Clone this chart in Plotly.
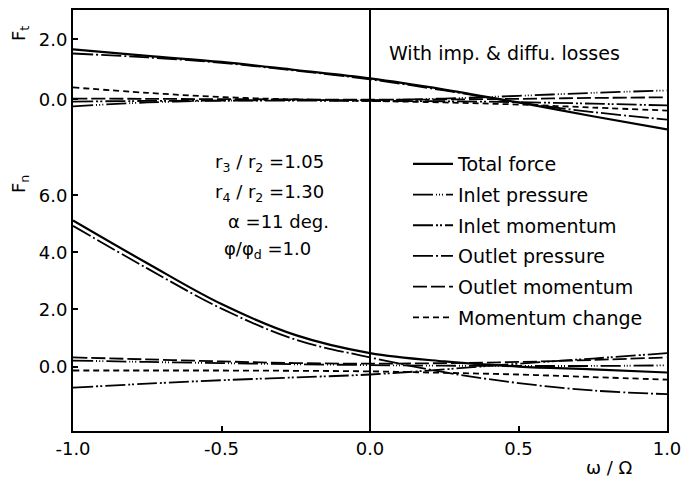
import plotly.graph_objects as go

# ---------------- data ----------------
omega = [-1.0, -0.75, -0.5, -0.25, 0.0, 0.25, 0.5, 0.75, 1.0]

series_names = ["Total force", "Inlet pressure", "Inlet momentum",
                "Outlet pressure", "Outlet momentum", "Momentum change"]

# Tangential force Ft
ft_total = [1.67, 1.45, 1.25, 0.98, 0.70, 0.33, -0.10, -0.56, -1.00]
ft_inlet_p = [-0.23, -0.10, -0.04, -0.02, -0.02, 0.03, 0.12, 0.22, 0.30]
ft_inlet_m = [-0.07, -0.05, -0.04, -0.04, -0.05, -0.06, -0.09, -0.14, -0.20]
ft_outlet_p = [1.53, 1.40, 1.22, 0.96, 0.67, 0.30, -0.10, -0.42, -0.67]
ft_outlet_m = [0.03, 0.02, 0.01, 0.00, -0.01, 0.00, 0.02, 0.05, 0.07]
ft_mom_change = [0.40, 0.22, 0.08, 0.00, -0.05, -0.10, -0.17, -0.27, -0.37]

# Normal force Fn
fn_total = [5.12, 3.62, 2.19, 1.10, 0.47, 0.18, 0.00, -0.10, -0.21]
fn_inlet_p = [0.21, 0.16, 0.12, 0.08, 0.05, 0.03, 0.02, 0.02, 0.04]
fn_inlet_m = [-0.74, -0.60, -0.48, -0.38, -0.28, -0.10, 0.10, 0.28, 0.47]
fn_outlet_p = [4.93, 3.44, 2.03, 0.94, 0.32, -0.20, -0.58, -0.84, -0.97]
fn_outlet_m = [0.32, 0.25, 0.18, 0.12, 0.10, 0.12, 0.16, 0.23, 0.32]
fn_mom_change = [-0.14, -0.14, -0.14, -0.15, -0.17, -0.22, -0.28, -0.37, -0.46]

ft_series = [ft_total, ft_inlet_p, ft_inlet_m, ft_outlet_p, ft_outlet_m, ft_mom_change]
fn_series = [fn_total, fn_inlet_p, fn_inlet_m, fn_outlet_p, fn_outlet_m, fn_mom_change]

x_ticks = [-1.0, -0.5, 0.0, 0.5, 1.0]
x_tick_labels = ["-1.0", "-0.5", "0.0", "0.5", "1.0"]
ft_ticks = [0.0, 2.0]
ft_tick_labels = ["0.0", "2.0"]
fn_ticks = [0.0, 2.0, 4.0, 6.0]
fn_tick_labels = ["0.0", "2.0", "4.0", "6.0"]

# ---------------- styling ----------------
dashes = ["solid",
          "20px,3px,1px,2px,1px,2px,1px,3px",
          "20px,3px,2px,2px,2px,3px",
          "20px,3px,2px,3px",
          "14px,4px",
          "6px,4px"]
widths = [2.2, 1.8, 1.8, 1.8, 1.8, 1.8]

W, H = 692, 478
L, R, T, B = 73, 25, 10, 47
PW, PH = W - L - R, H - T - B
FONT = "DejaVu Sans"


def xp(px):
    return (px - L) / PW


def yp(py):
    return 1 - (py - T) / PH


split = 0.62

fig = go.Figure()
for name, ys, d, w in zip(series_names, ft_series, dashes, widths):
    fig.add_trace(go.Scatter(x=omega, y=ys, mode="lines", name=name,
                             legendgroup=name, showlegend=True,
                             line=dict(color="black", width=w, dash=d, shape="spline"),
                             xaxis="x2", yaxis="y"))
for name, ys, d, w in zip(series_names, fn_series, dashes, widths):
    fig.add_trace(go.Scatter(x=omega, y=ys, mode="lines", name=name,
                             legendgroup=name, showlegend=False,
                             line=dict(color="black", width=w, dash=d, shape="spline"),
                             xaxis="x", yaxis="y2"))

axis_common = dict(showgrid=False, showline=True, linecolor="black", linewidth=2,
                   ticks="inside", ticklen=5, tickwidth=1.5, tickcolor="black",
                   tickfont=dict(family=FONT, size=18, color="black"))

fig.update_layout(
    width=W, height=H,
    margin=dict(l=L, r=R, t=T, b=B),
    paper_bgcolor="white", plot_bgcolor="white",
    font=dict(family=FONT, color="black"),
    xaxis=dict(anchor="y2", domain=[0, 1], range=[-1, 1], tickvals=x_ticks,
               ticktext=x_tick_labels, zeroline=True, zerolinecolor="black",
               zerolinewidth=1.5, ticklabelstandoff=0, **axis_common),
    xaxis2=dict(anchor="y", domain=[0, 1], matches="x", side="top",
                showticklabels=False, showgrid=False, showline=True,
                linecolor="black", linewidth=2, ticks="",
                zeroline=True, zerolinecolor="black", zerolinewidth=1.5),
    yaxis=dict(domain=[split, 1], range=[-2.35, 2.98], tickvals=ft_ticks,
               ticktext=ft_tick_labels, zeroline=False, mirror=True, **axis_common),
    yaxis2=dict(domain=[0, split], range=[-2.26, 6.89], tickvals=fn_ticks,
                ticktext=fn_tick_labels, zeroline=False, mirror=True, **axis_common),
    legend=dict(x=xp(408), y=yp(145), xanchor="left", yanchor="top",
                bgcolor="rgba(0,0,0,0)", borderwidth=0,
                font=dict(family=FONT, size=19, color="black"),
                traceorder="grouped", tracegroupgap=3, itemwidth=40),
    showlegend=True,
)

ann_font = dict(family=FONT, size=18, color="black")
annotations = [
    dict(text="With imp. & diffu. losses", x=xp(387), y=yp(53), xanchor="left",
         font=dict(family=FONT, size=19, color="black")),
    dict(text="r<sub>3</sub> / r<sub>2</sub> =1.05", x=xp(213), y=yp(163), xanchor="left"),
    dict(text="r<sub>4</sub> / r<sub>2</sub> =1.30", x=xp(213), y=yp(193), xanchor="left"),
    dict(text="α =11 deg.", x=xp(226), y=yp(221), xanchor="left"),
    dict(text="φ/φ<sub>d</sub> =1.0", x=xp(222), y=yp(250), xanchor="left"),
    dict(text="ω / Ω", x=xp(609), y=yp(467), xanchor="center"),
    dict(text="F<sub>t</sub>", x=xp(20), y=yp(34), xanchor="center", textangle=-90),
    dict(text="F<sub>n</sub>", x=xp(20), y=yp(184), xanchor="center", textangle=-90),
]
for a in annotations:
    a.setdefault("font", ann_font)
    fig.add_annotation(xref="paper", yref="paper", yanchor="middle",
                       showarrow=False, **a)

fig.write_html("out.html",
               config={"displayModeBar": False},
               post_script="document.body.style.margin='0px';")
